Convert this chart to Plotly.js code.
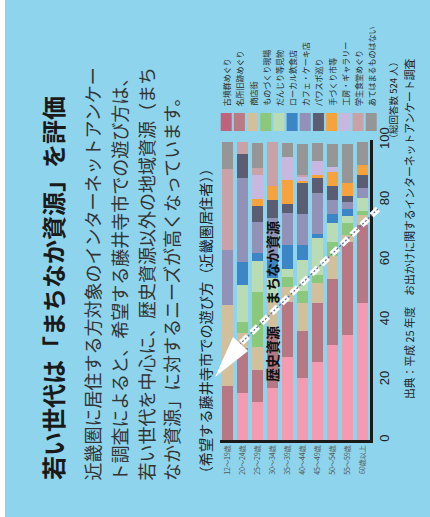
<!DOCTYPE html>
<html><head><meta charset="utf-8">
<script src="https://cdn.plot.ly/plotly-3.0.1.min.js"></script>
<style>html,body{margin:0;padding:0;background:#8ed4ec;}#chart{width:430px;height:517px;}</style>
</head><body><div id="chart"></div>
<script>
// ---- data (percent, stacked bottom -> top) ----
const ageGroups = ['12～19歳','20～24歳','25～29歳','30～34歳','35～39歳','40～44歳','45～49歳','50～54歳','55～59歳','60歳以上'];
const seriesNames = ['古墳群めぐり','名所旧跡めぐり','商店街','ものづくり現場','だんじり等見物','ローカル飲食店','カフェ・ケーキ店','パワスポ巡り','手づくり市等','工房・ギャラリー','学生食堂めぐり','あてはまるものはない'];
const kofun    = [0, 15.6, 12.8, 17.3, 27.8, 20.6, 25.9, 31.7, 35.0, 45.6];
const meisho   = [18.0, 15.0, 10.5, 19.0, 18.3, 15.6, 19.7, 21.9, 31.0, 26.0];
const shoten   = [27.0, 5.0, 7.8, 10.0, 4.9, 9.4, 6.7, 7.8, 2.2, 3.3];
const monozukuri = [0, 3.9, 18.3, 1.7, 3.3, 4.0, 2.7, 4.5, 4.2, 1.3];
const danjiri  = [0, 12.1, 10.4, 6.0, 2.8, 10.3, 12.2, 6.3, 2.4, 4.6];
const localFood = [0, 7.8, 2.6, 6.1, 7.8, 5.0, 1.4, 3.0, 2.2, 0];
const cafe     = [18.2, 28.0, 10.4, 13.9, 10.9, 10.3, 13.9, 4.8, 2.2, 3.2];
const powerSpot = [0, 7.8, 5.3, 6.1, 3.0, 10.4, 4.7, 4.7, 2.2, 4.5];
const handmade = [0, 0, 2.4, 4.7, 7.8, 0.9, 1.3, 4.6, 4.2, 3.1];
const gallery  = [0, 0, 7.9, 0, 7.8, 1.1, 4.4, 1.7, 0, 0];
const gakushoku = [27.2, 4.0, 2.4, 14.4, 0, 0.8, 0, 0, 0, 0];
const none     = [8.9, 0, 8.3, 0, 4.5, 10.3, 6.2, 7.7, 13.0, 7.6];
const yTicks = [0, 20, 40, 60, 80, 100];

const seriesValues = [kofun, meisho, shoten, monozukuri, danjiri, localFood, cafe, powerSpot, handmade, gallery, gakushoku, none];
const barColors = ['#f49bb1','#b77883','#d2c09c','#8cc87c','#b9dcb4','#3c86c6','#9292b8','#5c5c72','#f8a23e','#c8b8e0','#c9a2a8','#969696'];
const swatchColors = ['#c0627b','#b97a85','#d2c09c','#8cc87c','#b9dcb4','#3c86c6','#9292b8','#5c5c72','#f8a23e','#c8b8e0','#c9a2a8','#969696'];

const JP = '"Noto Sans CJK JP", "Noto Sans", sans-serif';
const W = 430, H = 517, L = 220, R = 370, T = 140, B = 440;
const fx = p => (p - L) / (R - L);
const fy = p => (B - p) / (B - T);

const traces = seriesNames.map((n, i) => ({
  type: 'bar', name: n, x: ageGroups, y: seriesValues[i],
  marker: {color: barColors[i], line: {width: 0}}, hoverinfo: 'skip'
}));

const shapes = [];
const annotations = [];

// left white strip
shapes.push({type:'rect', xref:'paper', yref:'paper', x0:fx(0), x1:fx(5), y0:fy(H), y1:fy(0), fillcolor:'#ffffff', line:{width:0}, layer:'below'});

// legend (rotated)
seriesNames.forEach((n, i) => {
  const c = 226.2 + i * 13.18;
  shapes.push({type:'rect', xref:'paper', yref:'paper', x0:fx(c-5.5), x1:fx(c+5.5), y0:fy(131), y1:fy(113), fillcolor:swatchColors[i], line:{width:0}});
  annotations.push({xref:'paper', yref:'paper', x:fx(c), y:fy(108), text:n, showarrow:false, textangle:-90,
    xanchor:'center', yanchor:'bottom', font:{family:JP, size:8, color:'#2a2a2a'}});
});

// arrow (dashed white with dotted centre)
const a0 = [378, 209], a1 = [240, 344];
shapes.push({type:'line', xref:'paper', yref:'paper', x0:fx(a0[0]), y0:fy(a0[1]), x1:fx(a1[0]), y1:fy(a1[1]), line:{color:'#ffffff', width:6, dash:'9px,5px'}});
shapes.push({type:'line', xref:'paper', yref:'paper', x0:fx(a0[0]), y0:fy(a0[1]), x1:fx(a1[0]), y1:fy(a1[1]), line:{color:'#5a6a9c', width:1.2, dash:'2px,2px'}});
const tip = [215, 377], c1 = [233, 337], c2 = [248, 351];
shapes.push({type:'path', xref:'paper', yref:'paper',
  path:`M ${fx(tip[0])} ${fy(tip[1])} L ${fx(c1[0])} ${fy(c1[1])} L ${fx(c2[0])} ${fy(c2[1])} Z`,
  fillcolor:'#ffffff', line:{width:0}});

// in-plot labels
annotations.push({xref:'paper', yref:'paper', x:fx(272), y:fy(219), text:'まちなか資源', showarrow:false, textangle:-90,
  font:{family:JP, size:14, color:'#111', weight:700}});
annotations.push({xref:'paper', yref:'paper', x:fx(272), y:fy(384), text:'歴史資源', showarrow:false, textangle:-90,
  font:{family:JP, size:14, color:'#111', weight:700}});

// title & body text
annotations.push({xref:'paper', yref:'paper', x:fx(52), y:fy(482), text:'若い世代は「まちなか資源」を評価', showarrow:false, textangle:-90,
  xanchor:'center', yanchor:'bottom', font:{family:JP, size:24, color:'#1a1a1a', weight:700}});
const bodyLines = ['近畿圏に居住する方対象のインターネットアンケー','ト調査によると、希望する藤井寺市での遊び方は、','若い世代を中心に、歴史資源以外の地域資源（まち','なか資源」に対するニーズが高くなっています。'];
const bodyX = [91, 118, 145, 171];
bodyLines.forEach((t, i) => annotations.push({xref:'paper', yref:'paper', x:fx(bodyX[i]), y:fy(483), text:t, showarrow:false, textangle:-90,
  xanchor:'center', yanchor:'bottom', font:{family:JP, size:18, color:'#333'}}));
annotations.push({xref:'paper', yref:'paper', x:fx(204), y:fy(483), text:'（希望する藤井寺市での遊び方（近畿圏居住者））', showarrow:false, textangle:-90,
  xanchor:'center', yanchor:'bottom', font:{family:JP, size:14.2, color:'#222'}});
annotations.push({xref:'paper', yref:'paper', x:fx(393), y:fy(55), text:'（総回答数 524 人）', showarrow:false, textangle:-90,
  xanchor:'center', yanchor:'top', font:{family:JP, size:9.5, color:'#222'}});
annotations.push({xref:'paper', yref:'paper', x:fx(409), y:fy(57), text:'出典：平成 25 年度　お出かけに関するインターネットアンケート調査', showarrow:false, textangle:-90,
  xanchor:'center', yanchor:'top', font:{family:JP, size:10.8, color:'#222'}});

const layout = {
  width: W, height: H,
  margin: {l: L, r: W - R, t: T, b: H - B, pad: 0},
  paper_bgcolor: '#8ed4ec', plot_bgcolor: '#8ed4ec',
  barmode: 'stack', bargap: 0.27, showlegend: false,
  xaxis: {type:'category', range:[-0.5, 9.5], showline:true, linecolor:'#1a1a1a', linewidth:2.5,
    showgrid:false, zeroline:false, ticks:'', tickangle:-90, tickfont:{family:JP, size:7, color:'#555'}, fixedrange:true},
  yaxis: {range:[0, 100], side:'right', tickvals:yTicks, ticktext:yTicks.map(String), showline:true, linecolor:'#1a1a1a', linewidth:3,
    showgrid:false, zeroline:false, ticks:'', tickangle:-90, tickfont:{family:'"Liberation Sans", Arial, sans-serif', size:13, color:'#222'}, fixedrange:true},
  shapes: shapes, annotations: annotations
};
Plotly.newPlot('chart', traces, layout, {staticPlot:true, displayModeBar:false});
</script></body></html>
